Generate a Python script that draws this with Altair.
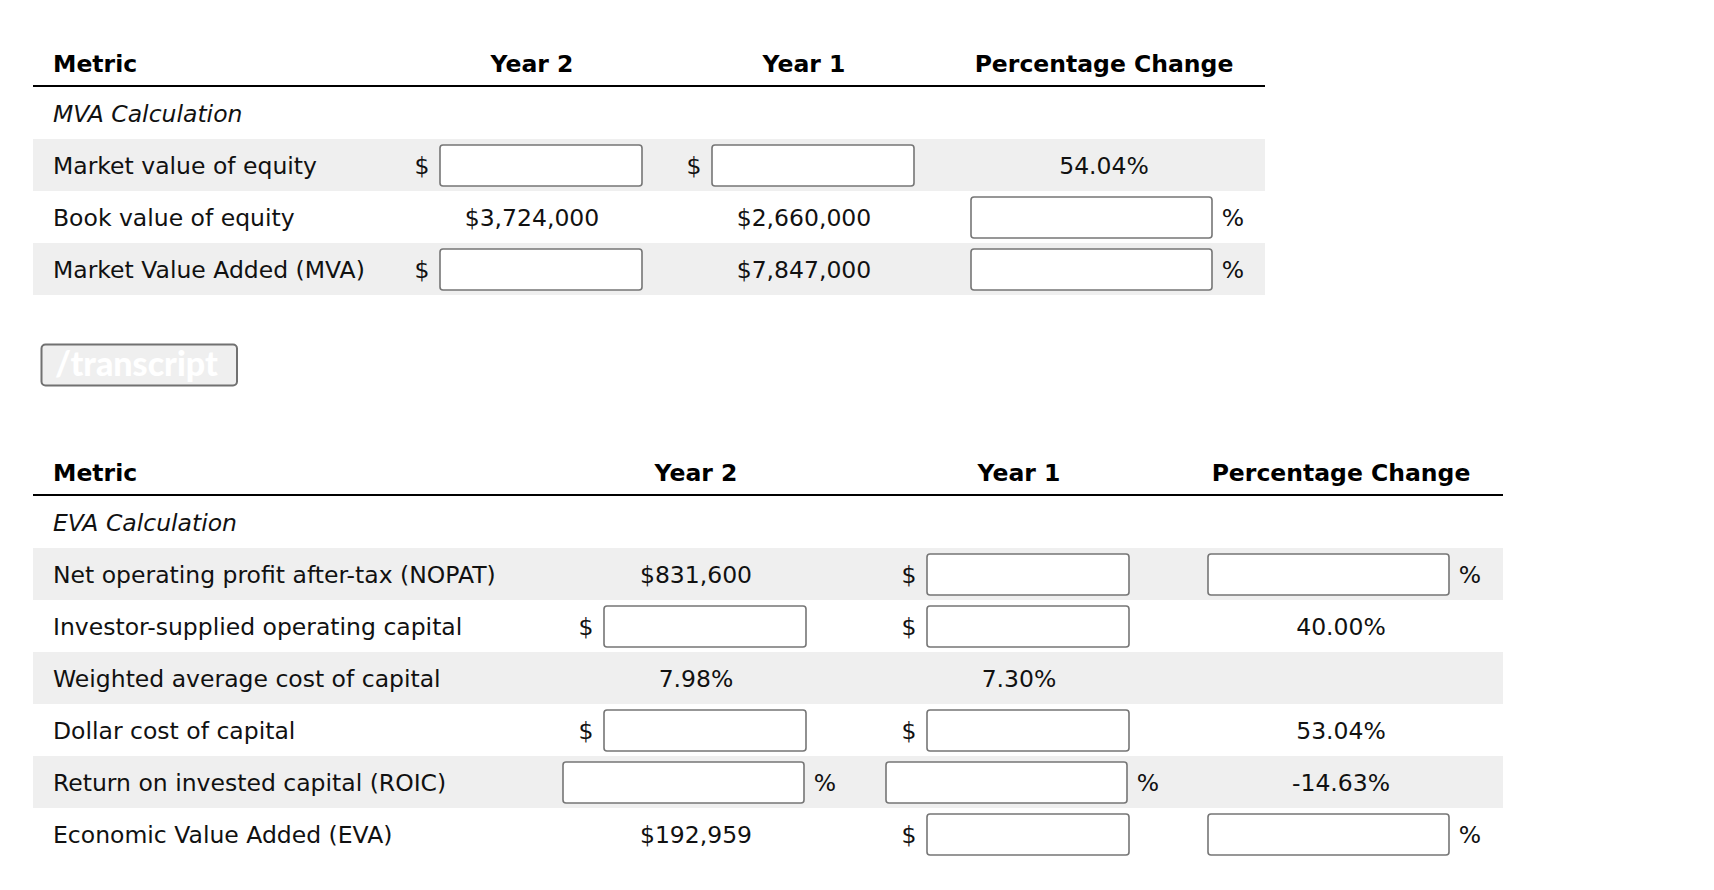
import altair as alt
import pandas as pd

# ---------------- data ----------------
headers = ["Metric", "Year 2", "Year 1", "Percentage Change"]

section_1 = "MVA Calculation"
metrics_1 = ["Market value of equity", "Book value of equity", "Market Value Added (MVA)"]
year2_1 = [None, "$3,724,000", None]          # None = empty input field
year1_1 = [None, "$2,660,000", "$7,847,000"]
change_1 = ["54.04%", None, None]
unit_1 = ["$", "$", "$"]

section_2 = "EVA Calculation"
metrics_2 = [
    "Net operating profit after-tax (NOPAT)",
    "Investor-supplied operating capital",
    "Weighted average cost of capital",
    "Dollar cost of capital",
    "Return on invested capital (ROIC)",
    "Economic Value Added (EVA)",
]
year2_2 = ["$831,600", None, "7.98%", None, None, "$192,959"]
year1_2 = [None, None, "7.30%", None, None, None]
change_2 = [None, "40.00%", "", "53.04%", "-14.63%", None]
unit_2 = ["$", "$", "%", "$", "%", "$"]

button_label = "/transcript"

# ---------------- layout ----------------
W, H = 1698, 870
OFF = 8
FONT = "DejaVu Sans"
FS = 23.5
ROW = 52
LEFT = 33
TEXT_X = 53
TXT = "#111111"

tables = [
    dict(section=section_1, metrics=metrics_1, cols=[year2_1, year1_1, change_1],
         units=unit_1, dy=0, centers=[532, 804, 1104], right=1265),
    dict(section=section_2, metrics=metrics_2, cols=[year2_2, year1_2, change_2],
         units=unit_2, dy=409, centers=[696, 1019, 1341], right=1503),
]

bands, boxes, rules = [], [], []
t_head_left, t_head_center, t_section, t_metric, t_center = [], [], [], [], []

for t in tables:
    dy = t["dy"]
    rules.append(dict(x=LEFT, x2=t["right"], y=86 + dy))
    t_head_left.append(dict(x=TEXT_X, y=72 + dy, text=headers[0]))
    for c, h in zip(t["centers"], headers[1:]):
        t_head_center.append(dict(x=c, y=72 + dy, text=h))
    t_section.append(dict(x=TEXT_X, y=122 + dy, text=t["section"]))
    for i, m in enumerate(t["metrics"]):
        cy = 165 + dy + ROW * i
        if i % 2 == 0:
            bands.append(dict(x=LEFT, x2=t["right"], y=cy - 26, y2=cy + 26))
        t_metric.append(dict(x=TEXT_X, y=cy + 8.6, text=m))
        for j, (c, col) in enumerate(zip(t["centers"], t["cols"])):
            v = col[i]
            unit = "%" if j == 2 else t["units"][i]
            if v is None:
                if unit == "$":
                    bx0, bx1 = c - 92, c + 110
                    t_center.append(dict(x=bx0 - 18, y=cy + 8.6, text="$"))
                else:
                    bx0, bx1 = c - 133, c + 108
                    t_center.append(dict(x=bx1 + 21, y=cy + 8.6, text="%"))
                boxes.append(dict(x=bx0, x2=bx1, y=cy - 20, y2=cy + 21))
            elif v:
                t_center.append(dict(x=c, y=cy + 8.6, text=v))

button_rect = [dict(x=41.5, x2=237, y=344.5, y2=385.5)]
button_text = [dict(x=55, y=376, text=button_label)]

xs = alt.Scale(domain=[OFF, OFF + W], nice=False, zero=False)
ys = alt.Scale(domain=[OFF, OFF + H], nice=False, zero=False, reverse=True)


def rect_layer(rows, **kw):
    return alt.Chart(pd.DataFrame(rows)).mark_rect(**kw).encode(
        x=alt.X("x:Q", scale=xs, axis=None), x2="x2:Q",
        y=alt.Y("y:Q", scale=ys, axis=None), y2="y2:Q")


def text_layer(rows, **kw):
    opts = dict(font=FONT, fontSize=FS, color=TXT, baseline="alphabetic")
    opts.update(kw)
    return alt.Chart(pd.DataFrame(rows)).mark_text(**opts).encode(
        x=alt.X("x:Q", scale=xs, axis=None),
        y=alt.Y("y:Q", scale=ys, axis=None),
        text="text:N")


rule_layer = alt.Chart(pd.DataFrame(rules)).mark_rule(color="#000000", strokeWidth=2).encode(
    x=alt.X("x:Q", scale=xs, axis=None), x2="x2:Q",
    y=alt.Y("y:Q", scale=ys, axis=None))

chart = alt.layer(
    rect_layer(bands, color="#efefef"),
    rule_layer,
    rect_layer(boxes, fill="#ffffff", stroke="#767676", strokeWidth=1.6, cornerRadius=3),
    rect_layer(button_rect, fill="#efefef", stroke="#717171", strokeWidth=2, cornerRadius=4),
    text_layer(t_head_left, align="left", fontWeight="bold", color="#000000"),
    text_layer(t_head_center, align="center", fontWeight="bold", color="#000000"),
    text_layer(t_section, align="left", fontStyle="italic"),
    text_layer(t_metric, align="left"),
    text_layer(t_center, align="center"),
    text_layer(button_text, align="left", font="Lato", fontWeight=900, fontSize=34, color="#ffffff"),
).properties(
    width=W, height=H,
    autosize=alt.AutoSizeParams(type="fit", contains="padding"),
    padding=0,
).configure_view(stroke=None)

chart.save("out.html", embed_options={"renderer": "svg", "actions": False})
